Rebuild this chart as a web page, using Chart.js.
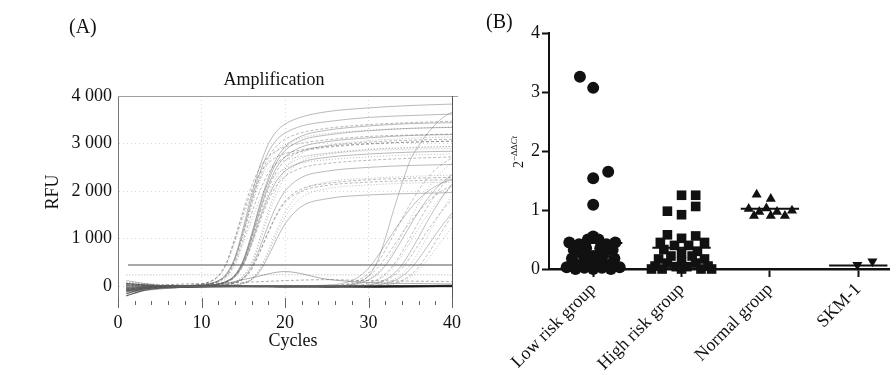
<!DOCTYPE html>
<html>
<head>
<meta charset="utf-8">
<script src="https://cdn.jsdelivr.net/npm/chart.js@4.4.1/dist/chart.umd.min.js"></script>
<style>
  html, body { margin: 0; padding: 0; background: #fff; }
  #wrap { position: relative; width: 896px; height: 375px; overflow: hidden; }
  #chartA { position: absolute; left: 0; top: 0; }
  #chartB { position: absolute; left: 470px; top: 0; }
</style>
</head>
<body>
<div id="wrap">
  <canvas id="chartA" width="470" height="375"></canvas>
  <canvas id="chartB" width="426" height="375"></canvas>
</div>
<script>
// =============================
// DATA (A) AMPLIFICATION
// =============================

const cycleTicks = [0, 10, 20, 30, 40];
const rfuTicks = [0, 1000, 2000, 3000, 4000];
const thresholdRfu = 450;

// curves that come up early (Ct ~13-17)
const earlyCycles = [1, 5, 9, 11, 12, 13, 14, 15, 16, 17, 18, 19, 20, 22, 25, 30, 35, 40];
const earlyRfu = [
  [-80, 10, 20, 60, 120, 270, 610, 1230, 1920, 2530, 2990, 3260, 3410, 3560, 3670, 3750, 3800, 3830],
  [-60, 5, 25, 100, 220, 510, 1020, 1600, 2110, 2500, 2720, 2850, 2930, 3010, 3080, 3150, 3180, 3200],
  [40, -10, 25, 90, 200, 460, 930, 1450, 1910, 2260, 2470, 2580, 2650, 2730, 2790, 2850, 2880, 2900],
  [-120, 0, 15, 55, 115, 250, 580, 1160, 1810, 2390, 2820, 3080, 3220, 3370, 3460, 3550, 3590, 3620],
  [30, 15, 15, 50, 110, 240, 560, 1110, 1740, 2290, 2710, 2950, 3090, 3230, 3320, 3400, 3440, 3470],
  [-150, -20, 15, 50, 110, 230, 540, 1070, 1680, 2210, 2610, 2850, 2980, 3120, 3210, 3280, 3320, 3350],
  [20, 10, 5, 25, 50, 100, 220, 510, 1020, 1600, 2110, 2500, 2720, 2930, 3040, 3120, 3170, 3190],
  [-40, 0, 10, 45, 100, 210, 490, 980, 1530, 2010, 2380, 2590, 2720, 2840, 2920, 2990, 3030, 3050],
  [90, 20, 5, 25, 45, 95, 210, 470, 940, 1480, 1950, 2300, 2510, 2700, 2800, 2880, 2920, 2940],
  [-100, -10, 0, 25, 50, 110, 230, 540, 1070, 1680, 2210, 2610, 2850, 3070, 3180, 3270, 3320, 3340],
  [10, 5, 0, 25, 45, 100, 220, 500, 990, 1550, 2050, 2420, 2640, 2840, 2950, 3030, 3070, 3090],
  [-30, 10, 0, 15, 25, 50, 100, 220, 500, 1010, 1580, 2080, 2460, 2800, 2960, 3060, 3110, 3140],
  [60, 0, 5, 25, 45, 90, 200, 460, 910, 1430, 1880, 2220, 2420, 2610, 2710, 2780, 2820, 2840],
  [-60, -5, 0, 20, 40, 90, 190, 440, 870, 1360, 1800, 2120, 2310, 2490, 2580, 2650, 2690, 2720],
  [0, 15, 0, 10, 25, 45, 95, 210, 470, 940, 1480, 1950, 2300, 2630, 2770, 2870, 2910, 2940],
  [120, 20, 0, 10, 20, 40, 80, 180, 410, 820, 1290, 1700, 2000, 2290, 2420, 2500, 2540, 2560],
  [-90, -15, 0, 10, 20, 35, 70, 160, 360, 720, 1130, 1490, 1760, 2000, 2120, 2190, 2220, 2240],
  [30, 5, 0, 0, 10, 20, 35, 70, 150, 350, 700, 1100, 1450, 1870, 2050, 2130, 2170, 2190],
  [-20, 0, 0, 0, 10, 15, 30, 60, 140, 320, 630, 990, 1310, 1680, 1840, 1920, 1950, 1970],
  [50, 10, 0, 10, 20, 35, 75, 160, 370, 740, 1150, 1520, 1790, 2050, 2160, 2240, 2270, 2290],
  [-70, -10, 10, 40, 90, 190, 440, 890, 1390, 1830, 2170, 2360, 2470, 2590, 2660, 2720, 2760, 2780],
  [0, 0, 0, 30, 50, 110, 240, 550, 1100, 1730, 2280, 2690, 2930, 3160, 3280, 3370, 3420, 3440],
  [-40, 0, 25, 100, 210, 490, 980, 1530, 2010, 2380, 2590, 2720, 2790, 2870, 2940, 3000, 3030, 3050],
  [10, 0, 0, 0, 10, 20, 35, 75, 160, 380, 750, 1180, 1550, 2000, 2190, 2270, 2310, 2340]
];

// curves that come up late (Ct ~29-36)
const lateCycles = [1, 10, 20, 26, 28, 29, 30, 31, 32, 33, 34, 35, 36, 37, 38, 39, 40];
const lateRfu = [
  [-30, 0, 5, 10, 40, 100, 220, 500, 1000, 1600, 2150, 2650, 2950, 3200, 3400, 3560, 3660],
  [-50, 0, 5, 20, 75, 150, 275, 470, 755, 1080, 1420, 1730, 2020, 2260, 2450, 2590, 2700],
  [20, 5, 0, 10, 30, 75, 150, 275, 470, 755, 1080, 1420, 1730, 2020, 2260, 2450, 2590],
  [-90, -10, 0, 5, 30, 65, 135, 245, 430, 685, 980, 1280, 1570, 1820, 2040, 2210, 2350],
  [40, 0, 5, 0, 10, 30, 70, 140, 260, 450, 720, 1030, 1350, 1650, 1920, 2150, 2330],
  [-20, 5, 0, 5, 10, 25, 65, 125, 235, 405, 650, 925, 1215, 1485, 1730, 1935, 2100],
  [-120, -5, 0, 0, 5, 10, 30, 70, 140, 260, 450, 720, 1030, 1350, 1650, 1920, 2150],
  [60, 10, 5, 0, 5, 10, 25, 60, 120, 220, 380, 610, 875, 1150, 1400, 1630, 1830],
  [-60, 0, 0, 5, 0, 5, 10, 30, 70, 140, 260, 450, 720, 1030, 1350, 1650, 1920],
  [10, 5, 0, 0, 0, 5, 10, 25, 55, 110, 210, 360, 575, 825, 1080, 1320, 1540],
  [-40, -5, 0, 0, 0, 0, 5, 10, 25, 65, 125, 235, 405, 650, 925, 1215, 1485],
  [80, 10, 0, 0, 0, 0, 5, 10, 20, 50, 105, 195, 340, 540, 770, 1010, 1240],
  [-70, 0, 10, 40, 120, 220, 380, 610, 875, 1150, 1400, 1630, 1830, 1980, 2100, 2185, 2245],
  [30, 5, 5, 20, 55, 115, 215, 370, 590, 845, 1110, 1350, 1570, 1760, 1910, 2030, 2110]
];

// negative / flat wells
const baseCycles = [1, 3, 5, 8, 12, 16, 20, 25, 30, 35, 40];
const baseRfu = [
  [-150, -60, -20, -10, 0, 5, 0, -5, 0, 5, 10],
  [-100, -40, -10, 0, 5, 0, -10, -5, 5, 0, 5],
  [-60, -20, 0, 10, 5, 0, 5, 10, 0, -5, 0],
  [-200, -90, -40, -20, -10, -5, -10, -15, -20, -10, -5],
  [60, 30, 10, 0, 0, -5, 0, 0, 10, 15, 20],
  [-30, 0, 10, 20, 40, 180, 310, 150, 80, 60, 50],
  [-80, -20, 20, 50, 70, 90, 120, 140, 120, 110, 100],
  [240, 240, 240, 245, 240, 240, 245, 240, 240, 245, 240]
];

// =============================
// DATA (B) 2^-ddCt
// =============================

const groupNames = ["Low risk group", "High risk group", "Normal group", "SKM-1"];
const foldTicks = [0, 1, 2, 3, 4];

const lowRiskY = [3.26, 3.07, 1.65, 1.54, 1.09, 0.55, 0.50, 0.50, 0.45, 0.45, 0.42, 0.42, 0.35, 0.35, 0.32, 0.32,
  0.25, 0.25, 0.22, 0.18, 0.18, 0.13, 0.13, 0.08, 0.08, 0.06, 0.03, 0.03, 0.02, 0.02, 0.0, 0.0, 0.0];
const lowRiskJitter = [-0.15, 0.0, 0.17, 0.0, 0.0, 0.0, -0.06, 0.06, -0.27, 0.25, -0.16, 0.15, -0.08, 0.08, -0.22, 0.22,
  -0.12, 0.12, 0.0, -0.24, 0.24, -0.1, 0.1, -0.2, 0.2, 0.0, -0.3, 0.3, -0.1, 0.1, -0.2, 0.2, 0.0];

const highRiskY = [1.25, 1.25, 1.06, 0.98, 0.92, 0.58, 0.56, 0.52, 0.45, 0.45, 0.40, 0.40, 0.33, 0.30, 0.27, 0.22,
  0.22, 0.17, 0.17, 0.12, 0.10, 0.10, 0.05, 0.05, 0.04, 0.04, 0.0, 0.0, 0.0, 0.0, 0.0];
const highRiskJitter = [0.0, 0.16, 0.16, -0.16, 0.0, -0.16, 0.16, 0.0, -0.24, 0.26, -0.08, 0.08, -0.2, 0.18, 0.0, -0.12,
  0.12, -0.26, 0.26, 0.0, -0.16, 0.16, -0.3, 0.3, -0.06, 0.06, -0.22, 0.22, 0.0, -0.34, 0.34];

const normalY = [1.26, 1.19, 1.02, 0.99, 0.97, 0.97, 0.90, 0.90, 0.90, 1.03];
const normalJitter = [-0.15, 0.01, -0.24, 0.25, -0.12, 0.08, -0.18, 0.01, 0.17, -0.04];

const skmY = [0.07, 0.13];
const skmJitter = [-0.01, 0.16];

const groupMeans = [0.44, 0.36, 1.02, 0.06];


// =============================
// CHART A
// =============================

const serif = '"Liberation Serif", "Times New Roman", serif';
const dashes = [[], [3, 2], [1, 2]];

function curveSets(cycles, rows, color, width, dashed) {
  return rows.map((row, i) => ({
    data: row.map((v, k) => ({ x: cycles[k], y: v })),
    borderColor: color,
    borderWidth: width,
    borderDash: dashed ? dashes[i % 3] : [],
    pointRadius: 0,
    cubicInterpolationMode: "monotone",
    fill: false
  }));
}

const datasetsA = [
  ...curveSets(baseCycles, baseRfu.slice(5), "rgba(90,90,90,0.55)", 0.9, true),
  ...curveSets(lateCycles, lateRfu, "rgba(100,100,100,0.45)", 0.9, true),
  ...curveSets(earlyCycles, earlyRfu, "rgba(85,85,85,0.45)", 0.9, true),
  ...curveSets(baseCycles, baseRfu.slice(0, 5), "rgba(25,25,25,0.75)", 1.2, false),
  {
    data: [{ x: 1.2, y: thresholdRfu }, { x: 40, y: thresholdRfu }],
    borderColor: "#8c8c8c",
    borderWidth: 1.6,
    pointRadius: 0
  }
];

const panelAText = {
  id: "panelAText",
  afterDraw(chart) {
    const { ctx, chartArea: a, scales } = chart;
    ctx.save();

    // frame top and right
    ctx.strokeStyle = "#a0a0a0";
    ctx.lineWidth = 1;
    ctx.beginPath();
    ctx.moveTo(a.left, a.top + 0.5);
    ctx.lineTo(a.right + 6, a.top + 0.5);
    ctx.stroke();
    ctx.strokeStyle = "#555";
    ctx.beginPath();
    ctx.moveTo(a.right + 0.5, a.top);
    ctx.lineTo(a.right + 0.5, a.bottom + 4);
    ctx.stroke();

    // bottom tick marks
    ctx.strokeStyle = "#666";
    for (let c = 0; c <= 40; c += 2) {
      const px = Math.round(scales.x.getPixelForValue(c)) + 0.5;
      const len = c % 10 === 0 ? 5 : 2;
      ctx.beginPath();
      ctx.moveTo(px, a.bottom - len);
      ctx.lineTo(px, a.bottom + len);
      ctx.stroke();
    }

    ctx.fillStyle = "#111";
    ctx.textBaseline = "middle";
    ctx.font = "20px " + serif;
    ctx.textAlign = "left";
    ctx.fillText("(A)", 69, 28);

    ctx.font = "18px " + serif;
    ctx.textAlign = "center";
    ctx.fillText("Amplification", 274, 80);
    ctx.fillText("Cycles", 293, 341);

    ctx.translate(53, 192);
    ctx.rotate(-Math.PI / 2);
    ctx.fillText("RFU", 0, 0);
    ctx.restore();
  }
};

new Chart(document.getElementById("chartA"), {
  type: "line",
  data: { datasets: datasetsA },
  options: {
    responsive: false,
    animation: false,
    layout: { padding: { left: 60, right: 16, top: 96, bottom: 0 } },
    plugins: { legend: { display: false }, tooltip: { enabled: false } },
    scales: {
      x: {
        type: "linear",
        min: 0,
        max: 40,
        afterBuildTicks: s => { s.ticks = cycleTicks.map(v => ({ value: v })); },
        afterFit: s => { s.height = 72; },
        grid: { color: "rgba(0,0,0,0.16)", drawTicks: false },
        border: { display: false, dash: [1, 3] },
        ticks: { padding: 9, color: "#111", font: { family: serif, size: 18 } }
      },
      y: {
        min: -350,
        max: 4000,
        afterBuildTicks: s => { s.ticks = rfuTicks.map(v => ({ value: v })); },
        afterFit: s => { s.width = 58; },
        grid: { color: "rgba(0,0,0,0.16)", drawTicks: false },
        border: { color: "#777", dash: [1, 3] },
        ticks: {
          padding: 6,
          color: "#111",
          font: { family: serif, size: 18 },
          callback: v => (v === 0 ? "0" : (v / 1000) + " 000")
        }
      }
    }
  },
  plugins: [panelAText]
});


// =============================
// CHART B
// =============================

function groupPoints(index, ys, jitter) {
  return ys.map((v, k) => ({ x: index + jitter[k], y: v }));
}

function markerSet(points, style, radius, rotation) {
  return {
    type: "scatter",
    data: points,
    pointStyle: style,
    pointRadius: radius,
    pointRotation: rotation || 0,
    backgroundColor: "#111",
    borderColor: "#111",
    borderWidth: 0,
    clip: false
  };
}

const meanHalf = 0.33;
const meanSets = groupMeans.map((m, i) => ({
  type: "line",
  data: [{ x: i - meanHalf, y: m }, { x: i + meanHalf, y: m }],
  borderColor: "#111",
  borderWidth: 2,
  pointRadius: 0,
  clip: false
}));

const datasetsB = [
  markerSet(groupPoints(0, lowRiskY, lowRiskJitter), "circle", 6),
  markerSet(groupPoints(1, highRiskY, highRiskJitter), "rect", 6.8),
  markerSet(groupPoints(2, normalY, normalJitter), "triangle", 5.8),
  markerSet(groupPoints(3, skmY, skmJitter), "triangle", 5.8, 180),
  ...meanSets
];

const panelBText = {
  id: "panelBText",
  afterDraw(chart) {
    const { ctx } = chart;
    ctx.save();
    ctx.fillStyle = "#111";
    ctx.textBaseline = "middle";
    ctx.textAlign = "left";
    ctx.font = "20px " + serif;
    ctx.fillText("(B)", 16, 23);

    // y title 2^-ddCt, rotated
    ctx.translate(48, 152);
    ctx.rotate(-Math.PI / 2);
    ctx.textBaseline = "alphabetic";
    ctx.font = "14px " + serif;
    const w2 = ctx.measureText("2").width;
    ctx.font = "9px " + serif;
    const wd = ctx.measureText("\u2212\u0394\u0394").width;
    ctx.font = "italic 9px " + serif;
    const wc = ctx.measureText("Ct").width;
    let x0 = -(w2 + wd + wc) / 2;
    ctx.font = "14px " + serif;
    ctx.fillText("2", x0, 5);
    x0 += w2;
    ctx.font = "9px " + serif;
    ctx.fillText("\u2212\u0394\u0394", x0, -1);
    x0 += wd;
    ctx.font = "italic 9px " + serif;
    ctx.fillText("Ct", x0, -1);
    ctx.restore();
  }
};

new Chart(document.getElementById("chartB"), {
  type: "scatter",
  data: { datasets: datasetsB },
  options: {
    responsive: false,
    animation: false,
    layout: { padding: { left: 0, right: 6, top: 33, bottom: 0 } },
    plugins: { legend: { display: false }, tooltip: { enabled: false } },
    scales: {
      x: {
        type: "linear",
        min: -0.5,
        max: 3.35,
        afterBuildTicks: s => { s.ticks = groupNames.map((n, i) => ({ value: i })); },
        afterFit: s => { s.height = 106; },
        grid: { drawOnChartArea: false, drawTicks: true, tickLength: 8, tickWidth: 2, tickColor: "#111" },
        border: { color: "#111", width: 2.5 },
        ticks: {
          minRotation: 45,
          maxRotation: 45,
          padding: 2,
          color: "#111",
          font: { family: serif, size: 18 },
          callback: v => groupNames[v]
        }
      },
      y: {
        min: 0,
        max: 4,
        afterBuildTicks: s => { s.ticks = foldTicks.map(v => ({ value: v })); },
        afterFit: s => { s.width = 79; },
        grid: { drawOnChartArea: false, drawTicks: true, tickLength: 7, tickWidth: 2, tickColor: "#111" },
        border: { color: "#111", width: 2 },
        ticks: { padding: 2, color: "#111", font: { family: serif, size: 18 } }
      }
    }
  },
  plugins: [panelBText]
});
</script>
</body>
</html>
